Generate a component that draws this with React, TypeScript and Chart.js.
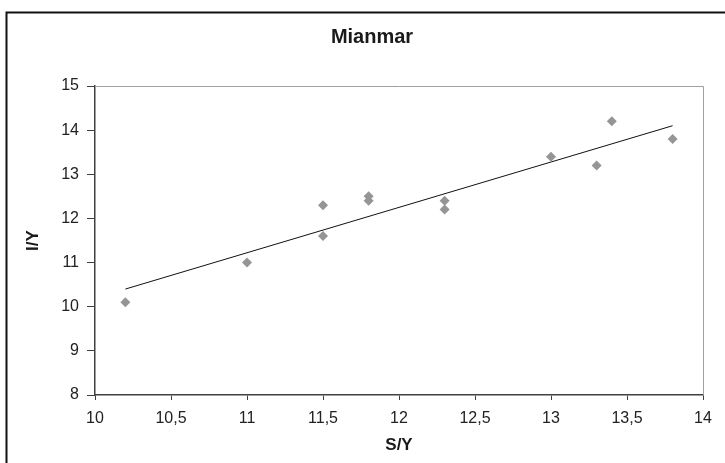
import React, { useEffect, useRef } from "react";
import { Chart, registerables } from "chart.js";

Chart.register(...registerables);

const titleText = "Mianmar";
const xTitle = "S/Y";
const yTitle = "I/Y";
const syValues = [10.2, 11, 11.5, 11.5, 11.8, 11.8, 12.3, 12.3, 13, 13.3, 13.4, 13.8];
const iyValues = [10.1, 11, 12.3, 11.6, 12.5, 12.4, 12.4, 12.2, 13.4, 13.2, 14.2, 13.8];
const trendX = [10.2, 13.8];
const trendY = [10.4, 14.1];

const FONT = "Arial, 'Liberation Sans', sans-serif";

const framePlugin = {
  id: "frame",
  beforeDraw(chart: any) {
    const ctx = chart.ctx;
    ctx.save();
    ctx.fillStyle = "#ffffff";
    ctx.fillRect(0, 0, chart.width, chart.height);
    ctx.strokeStyle = "#111111";
    ctx.lineWidth = 2;
    ctx.strokeRect(6.5, 12.5, 900, 900);
    ctx.restore();
  },
  afterDraw(chart: any) {
    const ctx = chart.ctx;
    const a = chart.chartArea;
    ctx.save();
    ctx.strokeStyle = "#a0a0a0";
    ctx.lineWidth = 1;
    ctx.beginPath();
    ctx.moveTo(a.left, a.top + 0.5);
    ctx.lineTo(a.right + 0.5, a.top + 0.5);
    ctx.lineTo(a.right + 0.5, a.bottom);
    ctx.stroke();
    ctx.fillStyle = "#1a1a1a";
    ctx.font = "bold 20px " + FONT;
    ctx.textAlign = "center";
    ctx.textBaseline = "alphabetic";
    ctx.fillText(titleText, 372, 43);
    ctx.restore();
  },
};

export default function App() {
  const ref = useRef<HTMLCanvasElement>(null);
  useEffect(() => {
    document.body.style.margin = "0";
    const points = syValues.map((x, i) => ({ x, y: iyValues[i] }));
    const trend = trendX.map((x, i) => ({ x, y: trendY[i] }));
    const chart = new Chart(ref.current as HTMLCanvasElement, {
      type: "scatter",
      data: {
        datasets: [
          {
            label: "data",
            data: points,
            pointStyle: "rectRot",
            pointRadius: 5,
            backgroundColor: "#959595",
            borderColor: "#959595",
            borderWidth: 0,
          },
          {
            label: "trend",
            type: "line",
            data: trend,
            showLine: true,
            pointRadius: 0,
            borderColor: "#111111",
            borderWidth: 1,
            fill: false,
          } as any,
        ],
      },
      options: {
        responsive: false,
        animation: false,
        layout: { padding: { left: 0, right: 22, top: 86, bottom: 0 } },
        plugins: {
          legend: { display: false },
          title: { display: false },
          tooltip: { enabled: false },
        },
        scales: {
          x: {
            type: "linear",
            min: 10,
            max: 14,
            afterFit(scale: any) {
              scale.height = 68;
            },
            ticks: {
              stepSize: 0.5,
              color: "#222222",
              font: { family: FONT, size: 16 },
              padding: 9,
              maxRotation: 0,
              callback: (v: any) => String(v).replace(".", ","),
            },
            grid: {
              drawOnChartArea: false,
              drawTicks: true,
              tickLength: 5,
              color: "#404040",
            },
            border: { display: true, color: "#404040", width: 1.5 },
            title: {
              display: true,
              text: xTitle,
              color: "#1a1a1a",
              font: { family: FONT, size: 17, weight: "bold" },
              padding: { top: 0, bottom: 7 },
            },
          },
          y: {
            type: "linear",
            min: 8,
            max: 15,
            afterFit(scale: any) {
              scale.width = 95;
            },
            ticks: {
              stepSize: 1,
              color: "#222222",
              font: { family: FONT, size: 16 },
              padding: 8,
            },
            grid: {
              drawOnChartArea: false,
              drawTicks: true,
              tickLength: 8,
              color: "#404040",
            },
            border: { display: true, color: "#404040", width: 1.5 },
            title: {
              display: true,
              text: yTitle,
              color: "#1a1a1a",
              font: { family: FONT, size: 17, weight: "bold" },
              padding: { top: 23, bottom: 0 },
            },
          },
        },
      },
      plugins: [framePlugin],
    });
    return () => chart.destroy();
  }, []);
  return (
    <div style={{ width: 725, height: 463 }}>
      <canvas ref={ref} width={725} height={463} style={{ display: "block" }} />
    </div>
  );
}
